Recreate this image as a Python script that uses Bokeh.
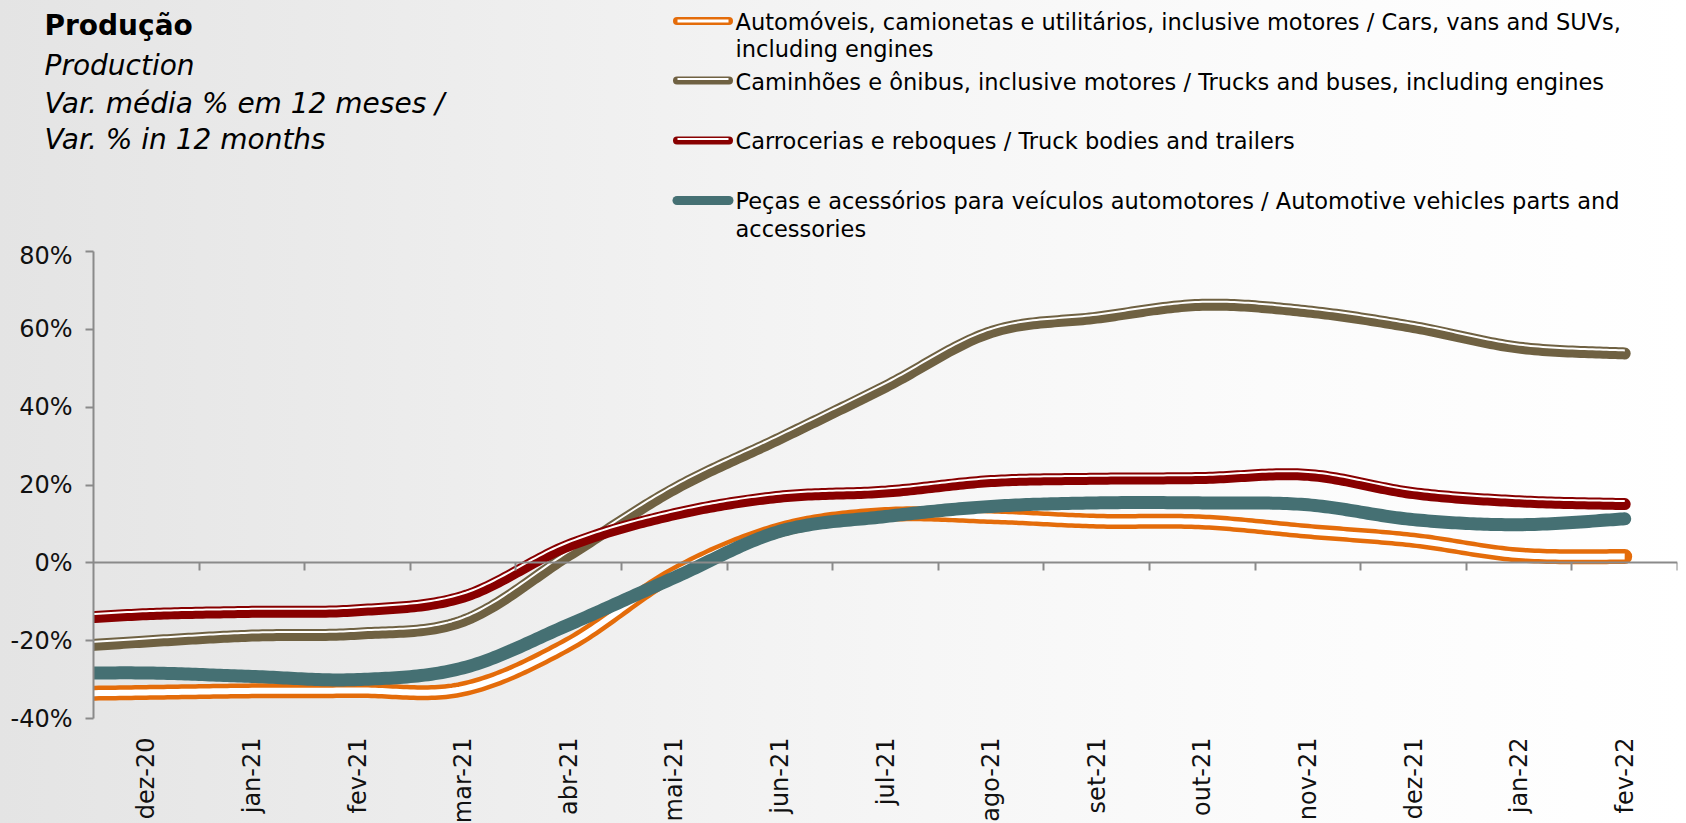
import math
import numpy as np
from bokeh.plotting import figure
from bokeh.layouts import column
from bokeh.models import Range1d, FixedTicker, LinearAxis, NumeralTickFormatter
from bokeh.core.properties import value
from bokeh.embed import file_html
from bokeh.resources import INLINE

# ---------------- data (percent, 12-month average variation) ----------------
periods = ["nov-20", "dez-20", "jan-21", "fev-21", "mar-21", "abr-21", "mai-21", "jun-21",
           "jul-21", "ago-21", "set-21", "out-21", "nov-21", "dez-21", "jan-22", "fev-22"]
period_pos = [-1, 0, 1, 2, 3, 4, 5, 6, 7, 8, 9, 10, 11, 12, 13, 14]
tick_labels = periods[1:]

cars = [-33.7, -33.3, -32.9, -32.8, -32.4, -20.9, -2.8, 8.5, 12.4, 11.9, 10.7, 10.5, 8.1, 5.8, 2.0, 1.6]
trucks = [-22.0, -20.2, -18.7, -18.2, -14.9, 2.0, 19.0, 32.0, 45.3, 59.3, 63.0, 66.3, 64.6, 60.6, 55.3, 53.8]
bodies = [-14.8, -13.2, -12.6, -12.2, -8.7, 4.5, 12.5, 17.0, 18.3, 21.0, 21.6, 21.8, 22.6, 17.9, 15.8, 15.1]
parts = [-28.5, -28.3, -29.2, -30.0, -27.0, -15.9, -3.8, 8.1, 11.9, 14.5, 15.4, 15.4, 14.9, 11.1, 9.8, 11.3]

y_ticks = [-0.4, -0.2, 0.0, 0.2, 0.4, 0.6, 0.8]

names = [
    ["Automóveis, camionetas e utilitários, inclusive motores / Cars, vans and SUVs,",
     "including engines"],
    ["Caminhões e ônibus, inclusive motores / Trucks and buses, including engines"],
    ["Carrocerias e reboques / Truck bodies and trailers"],
    ["Peças e acessórios para veículos automotores / Automotive vehicles parts and",
     "accessories"],
]
title_lines = ["Produção", "Production", "Var. média % em 12 meses /", "Var. % in 12 months"]

ORANGE = "#E46C0A"
BROWN = "#6F6142"
DARKRED = "#880000"
TEAL = "#457073"
AXIS = "#8A8A8A"
FONT = "DejaVu Sans"
GRADIENT = {"background": "linear-gradient(90deg, #e4e4e4 0%, #eeeeee 30%, #f6f6f6 55%, #fbfbfb 75%, #ffffff 100%)"}

# ---------------- layout constants ----------------
PAGE_W = 1686
HEAD_H = 241
FRAME_W, FRAME_H = 1584, 467
X0, X1 = -0.5, 14.5
Y0, Y1 = -0.4, 0.8
KX = FRAME_W / (X1 - X0)
KY = FRAME_H / (Y1 - Y0)


def smooth(xs, ys, n=30):
    P = np.column_stack([np.asarray(xs, float), np.asarray(ys, float)])
    out = []
    m = len(P)
    for i in range(m - 1):
        p0 = P[i - 1] if i > 0 else P[i]
        p1, p2 = P[i], P[i + 1]
        p3 = P[i + 2] if i + 2 < m else P[i + 1]
        c1 = p1 + (p2 - p0) / 6.0
        c2 = p2 - (p3 - p1) / 6.0
        t = np.linspace(0, 1, n, endpoint=(i == m - 2))[:, None]
        seg = ((1 - t) ** 3) * p1 + 3 * ((1 - t) ** 2) * t * c1 + 3 * (1 - t) * t ** 2 * c2 + t ** 3 * p2
        out.append(seg)
    a = np.vstack(out)
    return a[:, 0], a[:, 1]


def offset(x, y, d):
    X, Y = x * KX, y * KY
    tx, ty = np.gradient(X), np.gradient(Y)
    nrm = np.hypot(tx, ty)
    nrm[nrm == 0] = 1
    nx, ny = -ty / nrm, tx / nrm
    return x + nx * d / KX, y + ny * d / KY


# ======================= header (title + legend) =======================
# this panel's coordinates are page pixels (y downwards)
h = figure(width=PAGE_W, height=HEAD_H, x_range=Range1d(0, PAGE_W), y_range=Range1d(HEAD_H, 0),
           output_backend="svg", toolbar_location=None, min_border=0,
           background_fill_color=None, border_fill_color=None, outline_line_color=None)
h.frame_align = False
h.styles = GRADIENT
h.axis.visible = False
h.grid.visible = False

title_base = [24.5, 65, 102.5, 138.5]
for i, (txt, base) in enumerate(zip(title_lines, title_base)):
    h.text(x=[44], y=[base], text=[txt], text_font=value(FONT), text_font_size=value("28px"),
           text_font_style="bold" if i == 0 else "italic", text_color="#000000",
           text_baseline="alphabetic", text_align="left")

marker_cy = [20.5, 80, 140, 200]
text_rows = [[21, 48.5], [81], [140.5], [200.5, 228]]
colors = [ORANGE, BROWN, DARKRED, TEAL]
for k, (cy, col) in enumerate(zip(marker_cy, colors)):
    h.line(x=[676.5, 728.5], y=[cy, cy], line_color=col, line_width=9 if k == 3 else 8, line_cap="round")
    if k == 0:
        h.line(x=[677, 728], y=[cy, cy], line_color="white", line_width=3, line_cap="butt")
    elif k in (1, 2):
        h.line(x=[677, 728], y=[cy - 1.6, cy - 1.6], line_color="white", line_width=2, line_cap="butt")
    for txt, ty in zip(names[k], text_rows[k]):
        h.text(x=[735], y=[ty], text=[txt], text_font=value(FONT), text_font_size=value("22.5px"),
               text_color="#000000", text_baseline="middle", text_align="left")

# ======================= main chart =======================
p = figure(frame_width=FRAME_W, frame_height=FRAME_H,
           x_range=Range1d(X0, X1), y_range=Range1d(Y0, Y1),
           output_backend="svg", toolbar_location=None,
           min_border_left=93, min_border_right=9, min_border_top=10, min_border_bottom=105,
           background_fill_color=None, border_fill_color=None, outline_line_color=None)
p.frame_align = False
p.styles = GRADIENT
p.grid.visible = False

xa = p.xaxis[0]
xa.ticker = FixedTicker(ticks=list(range(len(tick_labels))))
xa.major_label_overrides = {i: lab for i, lab in enumerate(tick_labels)}
xa.major_label_orientation = math.pi / 2
xa.axis_line_color = None
xa.major_tick_line_color = None
xa.minor_tick_line_color = None
xa.major_label_standoff = 13
xa.major_label_text_font = FONT
xa.major_label_text_font_size = "24px"
xa.major_label_text_color = "#111111"

ya = p.yaxis[0]
ya.ticker = FixedTicker(ticks=y_ticks)
ya.formatter = NumeralTickFormatter(format="0%")
ya.axis_line_color = AXIS
ya.axis_line_width = 2
ya.major_tick_line_color = AXIS
ya.major_tick_line_width = 2
ya.major_tick_out = 8
ya.major_tick_in = 0
ya.minor_tick_line_color = None
ya.major_label_standoff = 13
ya.major_label_text_font = FONT
ya.major_label_text_font_size = "24px"
ya.major_label_text_color = "#111111"

zero_axis = LinearAxis(fixed_location=0,
                       ticker=FixedTicker(ticks=[i + 0.5 for i in range(len(tick_labels))]),
                       axis_line_color=AXIS, axis_line_width=2,
                       major_tick_line_color=AXIS, major_tick_line_width=2,
                       major_tick_in=8, major_tick_out=0, minor_tick_line_color=None,
                       major_label_text_alpha=0, major_label_text_font_size="1px")
p.add_layout(zero_axis, "above")


def compound(vals, color, width, white_w, white_off):
    x, y = smooth(period_pos, [v / 100 for v in vals])
    p.line(x, y, line_color=color, line_width=width, line_cap="round", line_join="round")
    if white_w:
        wx, wy = offset(x, y, white_off)
        p.line(wx, wy, line_color="white", line_width=white_w, line_cap="butt", line_join="round")


compound(cars, ORANGE, 15, 6, 0)
compound(trucks, BROWN, 12, 2, 3)
compound(bodies, DARKRED, 12, 2, 3)
compound(parts, TEAL, 13, 0, 0)

layout = column(h, p, spacing=0)
open("out.html", "w").write(file_html(layout, INLINE))
